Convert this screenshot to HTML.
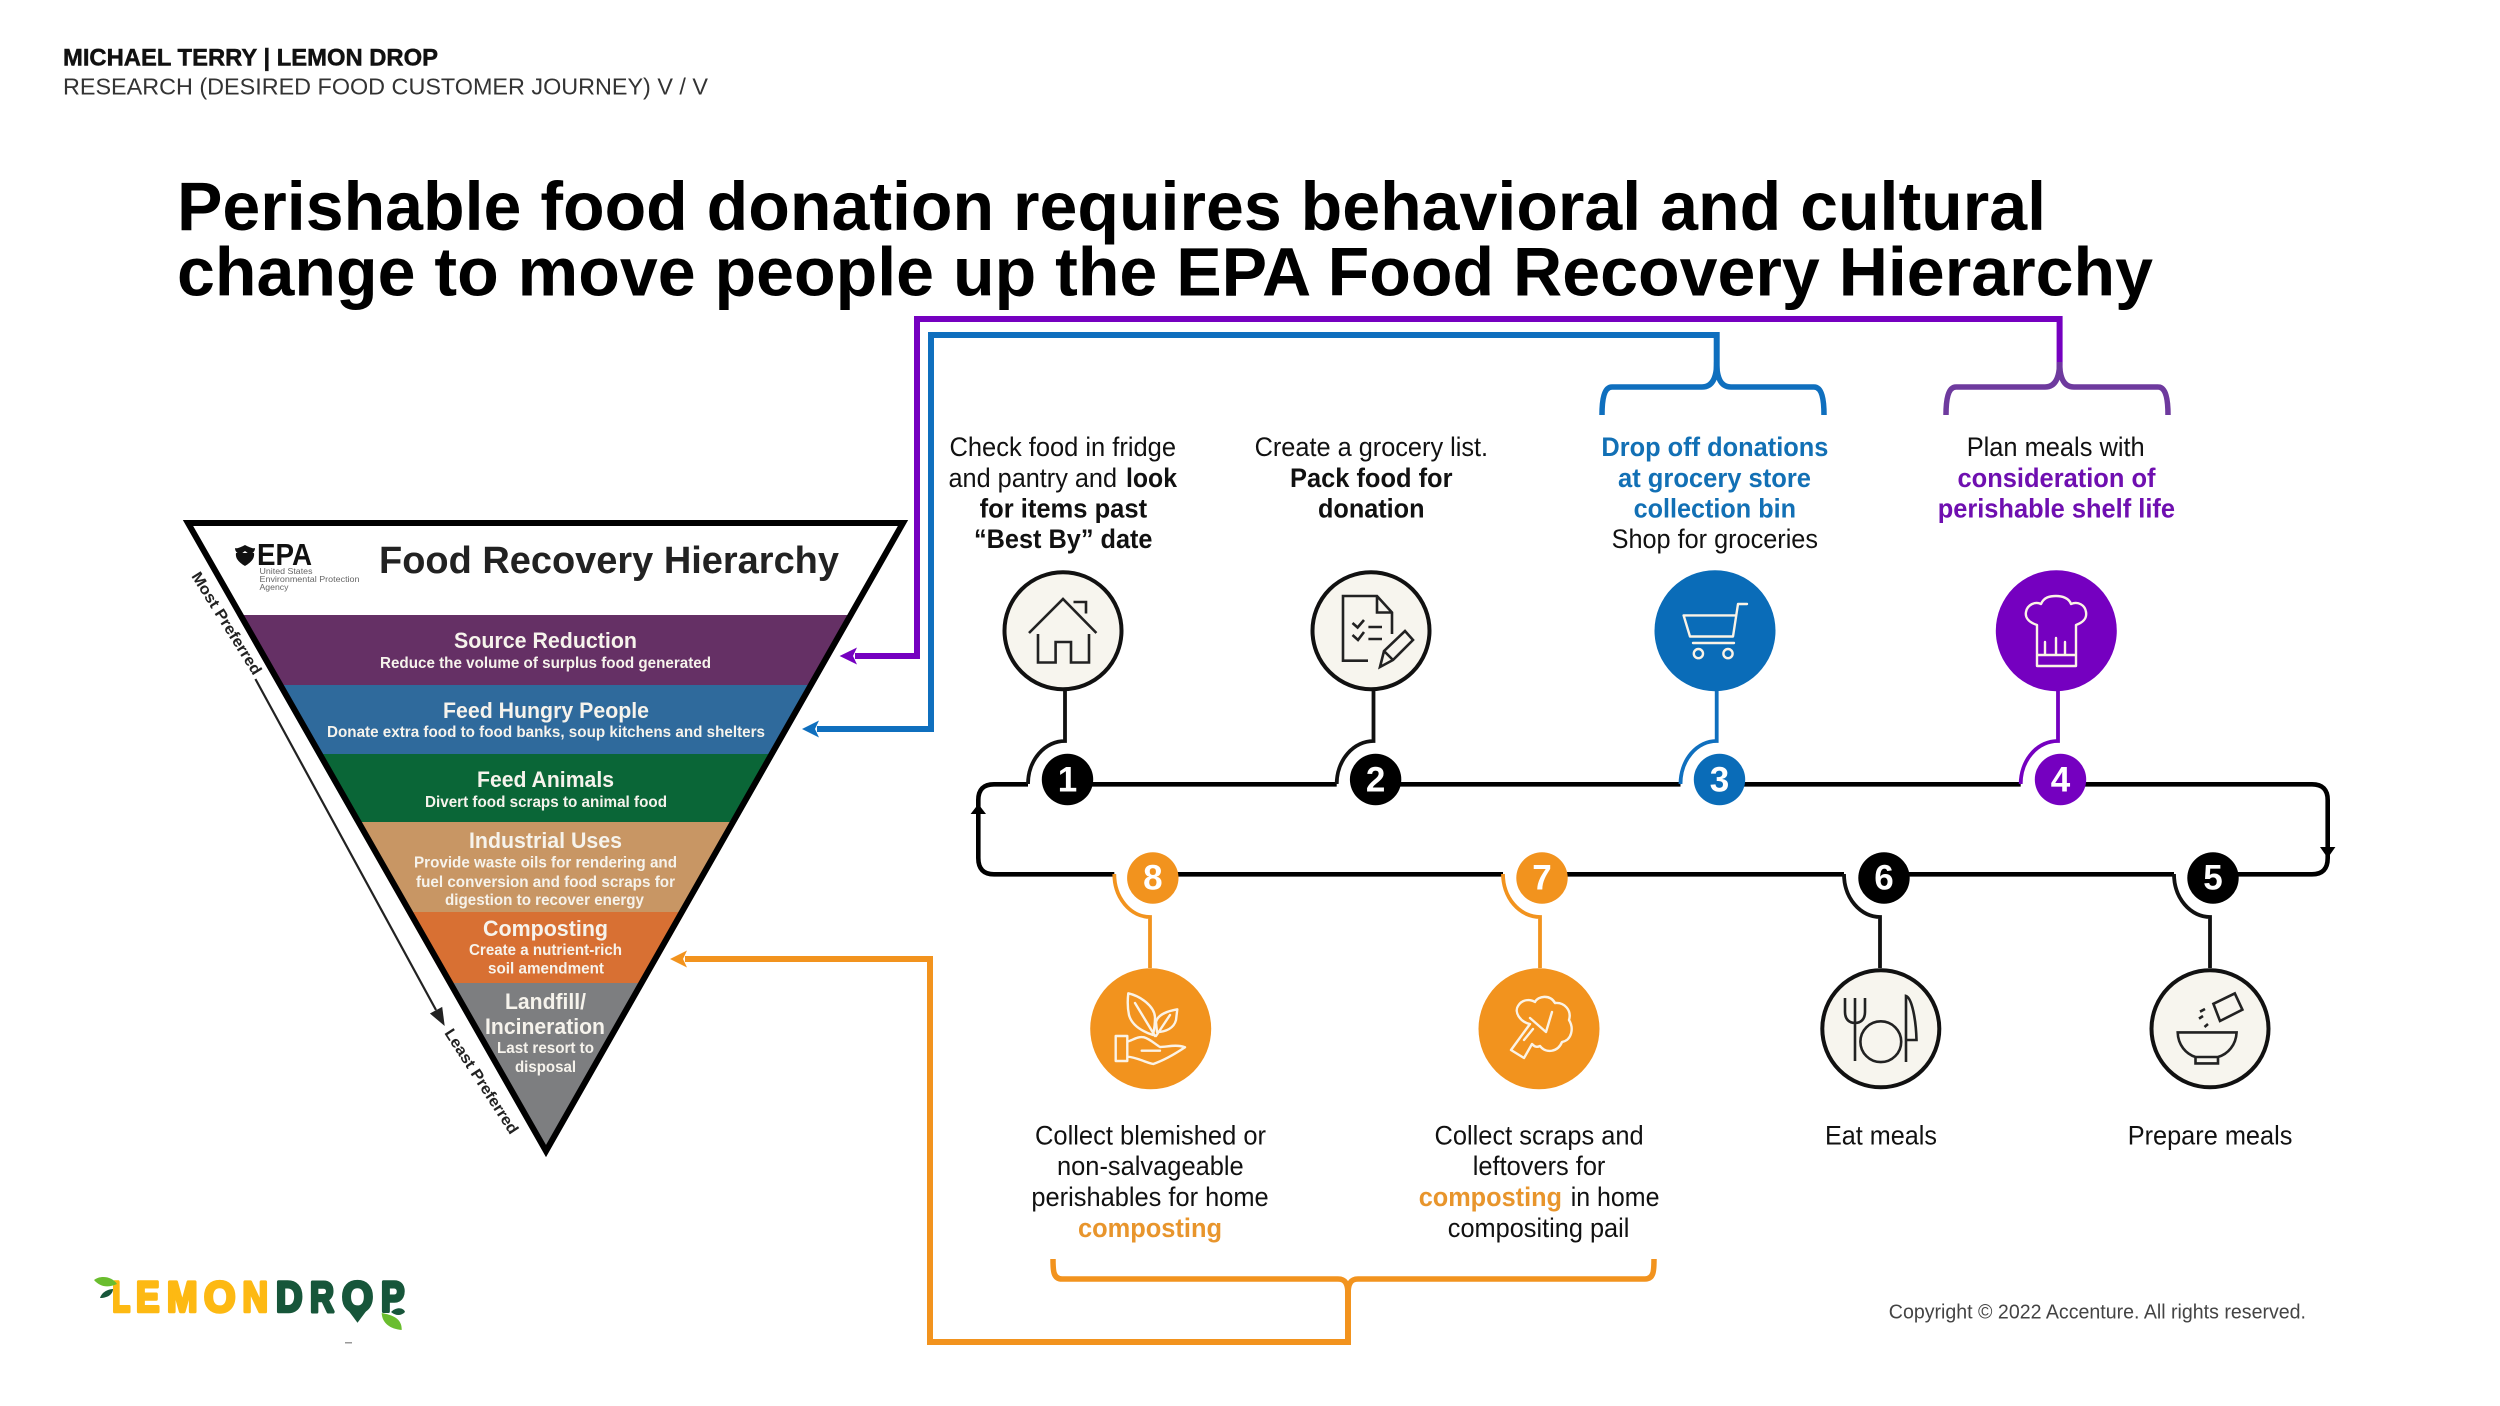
<!DOCTYPE html>
<html><head><meta charset="utf-8"><title>Food Recovery Hierarchy</title>
<style>
html,body{margin:0;padding:0;background:#fff}
svg{display:block}
text{font-family:"Liberation Sans",sans-serif}
.b{font-weight:bold}
.lab{font-size:27px;fill:#111}
.t{font-size:22.5px;font-weight:bold;fill:#F6F3EC}
.s{font-size:16px;font-weight:bold;fill:#F6F3EC}
.n{font-size:35px;font-weight:bold;fill:#fff;text-anchor:middle}
.ic{fill:none;stroke:#222;stroke-width:2.6}
.iw{fill:none;stroke:#FBF3E6;stroke-width:2.4;stroke-linejoin:round;stroke-linecap:round}
</style></head><body>
<svg width="2500" height="1406" viewBox="0 0 2500 1406" xmlns="http://www.w3.org/2000/svg">
<rect width="2500" height="1406" fill="#fff"/>
<defs><clipPath id="tri"><polygon points="183,520 908,520 546,1157"/></clipPath></defs>

<!-- header -->
<text class="b" x="63" y="65.7" font-size="24.5" fill="#111" stroke="#111" stroke-width="0.5" textLength="375" lengthAdjust="spacingAndGlyphs">MICHAEL TERRY | LEMON DROP</text>
<text x="63" y="94.3" font-size="23.5" fill="#333" textLength="645" lengthAdjust="spacingAndGlyphs">RESEARCH (DESIRED FOOD CUSTOMER JOURNEY)  V / V</text>
<text class="b" x="177" y="230" font-size="69" fill="#000" textLength="1869" lengthAdjust="spacingAndGlyphs">Perishable food donation requires behavioral and cultural</text>
<text class="b" x="177" y="295.7" font-size="69" fill="#000" textLength="1976" lengthAdjust="spacingAndGlyphs">change to move people up the EPA Food Recovery Hierarchy</text>

<!-- pyramid -->
<g clip-path="url(#tri)">
<rect x="180" y="615" width="730" height="70" fill="#653065"/>
<rect x="180" y="685" width="730" height="69" fill="#2F6A9C"/>
<rect x="180" y="754" width="730" height="68" fill="#0A6637"/>
<rect x="180" y="822" width="730" height="90" fill="#C89664"/>
<rect x="180" y="912" width="730" height="71" fill="#D87033"/>
<rect x="180" y="983" width="730" height="180" fill="#7D7E80"/>
</g>
<polygon points="188,523 903,523 546,1151" fill="none" stroke="#000" stroke-width="6" stroke-miterlimit="10"/>

<text class="b" x="379" y="573" font-size="38" fill="#222" textLength="460" lengthAdjust="spacingAndGlyphs">Food Recovery Hierarchy</text>
<path d="M245,545 C241,547 237,549 235,548 C235,552 238,554 241,554 L245,551 L249,554 C252,554 255,552 255,548 C253,549 249,547 245,545Z M245,553 L236,553 C235,559 240,563 245,566 C250,563 255,559 254,553Z" fill="#111"/>
<text class="b" x="257" y="565" font-size="31" fill="#111" textLength="55" lengthAdjust="spacingAndGlyphs">EPA</text>
<text x="259.5" y="574" font-size="8.5" fill="#666" textLength="53" lengthAdjust="spacingAndGlyphs">United States</text>
<text x="259.5" y="582" font-size="8.5" fill="#666" textLength="100" lengthAdjust="spacingAndGlyphs">Environmental Protection</text>
<text x="259.5" y="590" font-size="8.5" fill="#666" textLength="29" lengthAdjust="spacingAndGlyphs">Agency</text>

<text class="t" x="454" y="648" textLength="183" lengthAdjust="spacingAndGlyphs">Source Reduction</text>
<text class="s" x="380" y="668" textLength="331" lengthAdjust="spacingAndGlyphs">Reduce the volume of surplus food generated</text>
<text class="t" x="443" y="718" textLength="206" lengthAdjust="spacingAndGlyphs">Feed Hungry People</text>
<text class="s" x="327" y="737" textLength="438" lengthAdjust="spacingAndGlyphs">Donate extra food to food banks, soup kitchens and shelters</text>
<text class="t" x="477" y="787" textLength="137" lengthAdjust="spacingAndGlyphs">Feed Animals</text>
<text class="s" x="425" y="807" textLength="242" lengthAdjust="spacingAndGlyphs">Divert food scraps to animal food</text>
<text class="t" x="469" y="848" textLength="153" lengthAdjust="spacingAndGlyphs">Industrial Uses</text>
<text class="s" x="414" y="867.5" textLength="263" lengthAdjust="spacingAndGlyphs">Provide waste oils for rendering and</text>
<text class="s" x="416" y="887" textLength="259" lengthAdjust="spacingAndGlyphs">fuel conversion and food scraps for</text>
<text class="s" x="445" y="905" textLength="199" lengthAdjust="spacingAndGlyphs">digestion to recover energy</text>
<text class="t" x="483" y="936" textLength="125" lengthAdjust="spacingAndGlyphs">Composting</text>
<text class="s" x="469" y="955" textLength="153" lengthAdjust="spacingAndGlyphs">Create a nutrient-rich</text>
<text class="s" x="488" y="973.5" textLength="116" lengthAdjust="spacingAndGlyphs">soil amendment</text>
<text class="t" x="505" y="1009" textLength="81" lengthAdjust="spacingAndGlyphs">Landfill/</text>
<text class="t" x="485" y="1034" textLength="120" lengthAdjust="spacingAndGlyphs">Incineration</text>
<text class="s" x="497" y="1053" textLength="97" lengthAdjust="spacingAndGlyphs">Last resort to</text>
<text class="s" x="515" y="1072" textLength="61" lengthAdjust="spacingAndGlyphs">disposal</text>

<text class="b" transform="translate(191,576) rotate(58)" font-size="15.5" fill="#222" textLength="118" lengthAdjust="spacingAndGlyphs">Most Preferred</text>
<text class="b" transform="translate(444,1033) rotate(57)" font-size="15.5" fill="#222" textLength="122" lengthAdjust="spacingAndGlyphs">Least Preferred</text>
<line x1="255.4" y1="679" x2="436" y2="1010" stroke="#222" stroke-width="2.2"/>
<polygon points="444.7,1026 442.2,1006.9 429.9,1013.5" fill="#222"/>

<!-- coloured connectors -->
<path d="M2059.6,370 V319 H917 V656 H855" fill="none" stroke="#7500C0" stroke-width="6"/>
<polygon points="839.6,656 857,647.5 853,656 857,664.5" fill="#7500C0"/>
<path d="M1716.7,370 V335 H931 V729 H817" fill="none" stroke="#0F6FBE" stroke-width="6"/>
<polygon points="802,729 819,720.5 815,729 819,737.5" fill="#0F6FBE"/>
<path d="M1348,1290 V1342 H930 V959 H685" fill="none" stroke="#F2931E" stroke-width="6"/>
<polygon points="670,959 687,950.5 683,959 687,967.5" fill="#F2931E"/>

<!-- braces -->
<path d="M1602,415 C1602,400 1604,387 1612,387 H1702 C1711,387 1716.7,380 1716.7,362 C1716.7,380 1722,387 1731,387 H1814 C1822,387 1824,400 1824,415" fill="none" stroke="#0F6FBE" stroke-width="5.5"/>
<path d="M1946,415 C1946,400 1948,387 1956,387 H2045 C2054,387 2059.6,380 2059.6,362 C2059.6,380 2065,387 2074,387 H2158 C2166,387 2168,400 2168,415" fill="none" stroke="#6E3A9E" stroke-width="5.5"/>
<path d="M1053,1259 C1053,1270 1053,1279 1062,1279 H1338 C1345,1279 1348,1283 1348,1295 C1348,1283 1351,1279 1358,1279 H1645 C1654,1279 1654,1270 1654,1259" fill="none" stroke="#F2931E" stroke-width="5.5"/>

<!-- black loop -->
<g fill="none" stroke="#000" stroke-width="4.6">
<path d="M1028,784.3 H994 Q978.3,784.3 978.3,800 V858 Q978.3,874.3 994,874.3 H1114.3"/>
<path d="M1067,784.3 H1336.7 M1375,784.3 H1680.5 M1719,784.3 H2020.7"/>
<path d="M2060,784.3 H2312 Q2327.7,784.3 2327.7,800 V858 Q2327.7,874.3 2312,874.3 H2213"/>
<path d="M2174,874.3 H1884 M1844,874.3 H1542 M1503,874.3 H1153"/>
</g>
<polygon points="978.3,804 970.6,814 986,814" fill="#000"/>
<polygon points="2327.7,858 2320,847 2335.4,847" fill="#000"/>

<!-- stems -->
<g fill="none" stroke-width="3.8">
<path d="M1065,690 V741 A37 43 0 0 0 1028,784" stroke="#111"/>
<path d="M1373.5,690 V741 A37 43 0 0 0 1336.7,784" stroke="#111"/>
<path d="M1716.7,690 V741 A36 43 0 0 0 1680.5,784" stroke="#0F6FBE"/>
<path d="M2058,690 V741 A37 43 0 0 0 2020.7,784" stroke="#7500C0"/>
<path d="M1150,968 V917 A36 43 0 0 1 1114.3,874" stroke="#F2931E"/>
<path d="M1540,968 V917 A37 43 0 0 1 1503,874" stroke="#F2931E"/>
<path d="M1880,968 V917 A36 43 0 0 1 1844,874" stroke="#111"/>
<path d="M2210,968 V917 A36 43 0 0 1 2174,874" stroke="#111"/>
</g>

<!-- number circles -->
<circle cx="1067.5" cy="779.5" r="25.7" fill="#000"/><text class="n" x="1067.5" y="791.7">1</text>
<circle cx="1375.6" cy="779.5" r="25.7" fill="#000"/><text class="n" x="1375.6" y="791.7">2</text>
<circle cx="1719.5" cy="779.5" r="25.7" fill="#0A6CB8"/><text class="n" x="1719.5" y="791.7">3</text>
<circle cx="2060.5" cy="779.5" r="25.7" fill="#7500C0"/><text class="n" x="2060.5" y="791.7">4</text>
<circle cx="2213" cy="878" r="25.7" fill="#000"/><text class="n" x="2213" y="889.5">5</text>
<circle cx="1884" cy="878" r="25.7" fill="#000"/><text class="n" x="1884" y="889.5">6</text>
<circle cx="1542" cy="878" r="25.7" fill="#F2931E"/><text class="n" x="1542" y="889.5">7</text>
<circle cx="1152.8" cy="878" r="25.7" fill="#F2931E"/><text class="n" x="1152.8" y="889.5">8</text>

<!-- icon circles -->
<circle cx="1063" cy="630.7" r="58.5" fill="#F7F5EE" stroke="#111" stroke-width="4"/>
<circle cx="1371" cy="630.7" r="58.5" fill="#F7F5EE" stroke="#111" stroke-width="4"/>
<circle cx="1715" cy="630.7" r="60.5" fill="#0A6CB8"/>
<circle cx="2056.3" cy="630.7" r="60.5" fill="#7500C0"/>
<circle cx="1150.7" cy="1028.8" r="60.5" fill="#F2931E"/>
<circle cx="1539" cy="1028.8" r="60.5" fill="#F2931E"/>
<circle cx="1880.8" cy="1028.8" r="58.5" fill="#F7F5EE" stroke="#111" stroke-width="4"/>
<circle cx="2210" cy="1028.8" r="58.5" fill="#F7F5EE" stroke="#111" stroke-width="4"/>

<!-- house -->
<g class="ic"><path d="M1029,633 L1063,599 L1096.4,633 M1038,634 V662.5 H1055.6 V642 H1071 V662.5 H1089 V634 M1073.5,602 H1086 V613.5"/></g>
<!-- doc -->
<g class="ic"><path d="M1368,660.7 H1343 V596 H1377 L1392,612.5 V634 M1377,596 V612.5 H1392"/>
<path d="M1352.5,623 L1357.6,627.5 L1364,620 M1352.5,635 L1358,640 L1364,632 M1368.4,627 H1382 M1368.4,639 H1382"/>
<path d="M1380,667 L1384,651 L1405,631 L1413,640 L1393,660 Z M1384,651 L1393,660"/></g>
<!-- cart -->
<g class="iw"><path d="M1747,604 H1738 L1733,636.5 H1690 L1683.6,615.4 H1736"/><path d="M1693,643 H1734"/><circle cx="1698.4" cy="653.6" r="4.6"/><circle cx="1728" cy="653.6" r="4.6"/></g>
<!-- chef -->
<g class="iw"><path d="M2037,625 C2028,622 2025,617 2026,612 C2027,605 2035,601 2041,604 C2044,597 2050,596 2056,596 C2062,596 2069,598 2071,604 C2078,601 2085,605 2086,612 C2087,618 2084,622 2076,625 V666 H2037 Z M2037,655 H2076 M2045,655 V642 M2056,655 V638 M2065,655 V642"/></g>
<!-- leaf hand -->
<g class="iw" stroke-width="2"><path d="M1128.3,993.3 C1140,996 1155,1006 1155,1018 C1155,1026 1154,1030 1153,1035 C1144,1032 1132,1026 1129,1015 C1127.5,1008 1127.5,1000 1128.3,993.3 Z M1135,1003 L1155,1036"/>
<path d="M1177.3,1009.3 C1168,1011 1158,1014 1156,1022 L1157,1032 C1166,1032 1174,1028 1176,1020 Z M1170,1015 L1156,1036"/>
<path d="M1115.7,1036 H1127.3 V1061 H1115.7 Z M1127.3,1041.7 C1133,1040 1138,1036 1144,1037.3 C1150,1039 1155,1044 1160,1047 C1167,1047 1176,1044 1185,1047.3 C1175,1054 1165,1060 1153.3,1064 C1144,1062 1136,1057 1127.3,1056.7 M1141.7,1050.7 H1160"/></g>
<!-- broccoli -->
<g class="iw" stroke-width="2"><path d="M1511,1050 L1530,1024 C1520,1022 1514,1012 1518,1006 C1522,999 1530,999 1535,1002 C1538,996 1550,994 1555,1003 C1564,1002 1572,1010 1569,1020 C1574,1028 1572,1040 1562,1042 C1558,1052 1546,1054 1540,1046 C1536,1048 1534,1046 1532,1044 L1524,1058 Z M1530,1018 L1546,1032 M1552,1012 L1546,1032 M1524,1040 L1533,1029"/></g>
<!-- plate -->
<g class="ic" stroke-width="2.4"><circle cx="1880.8" cy="1041.7" r="20.4"/>
<path d="M1845,998 V1012 C1845,1020 1850,1023 1855,1023 C1860,1023 1865,1020 1865,1012 V998 M1855,998 V1061"/>
<path d="M1906,1062 V996 C1912,998 1916,1020 1916.5,1040 H1906"/></g>
<!-- bowl -->
<g class="ic"><path d="M2177.7,1032.4 H2236.6 C2236,1045 2228,1054 2218,1057 H2195.5 C2186,1054 2178,1045 2177.7,1032.4 Z M2195.5,1057 V1063.4 H2218 V1057"/>
<polygon points="2213.4,1003.8 2234.8,993.4 2242.4,1009.7 2220,1021"/>
<path d="M2200,1011.7 L2205,1009 M2199,1018.6 L2203,1016 M2204.5,1027 L2208,1024"/></g>

<!-- top labels -->
<text class="lab" x="949.5" y="456" textLength="226.5" lengthAdjust="spacingAndGlyphs">Check food in fridge</text>
<text class="lab" x="948.5" y="487" textLength="168.5" lengthAdjust="spacingAndGlyphs">and pantry and</text>
<text class="lab b" x="1126" y="487" textLength="51" lengthAdjust="spacingAndGlyphs">look</text>
<text class="lab b" x="979.6" y="517.5" textLength="167.5" lengthAdjust="spacingAndGlyphs">for items past</text>
<text class="lab b" x="974" y="548" textLength="178.5" lengthAdjust="spacingAndGlyphs">“Best By” date</text>

<text class="lab" x="1254.6" y="456" textLength="233.5" lengthAdjust="spacingAndGlyphs">Create a grocery list.</text>
<text class="lab b" x="1290" y="487" textLength="162.5" lengthAdjust="spacingAndGlyphs">Pack food for</text>
<text class="lab b" x="1318" y="517.5" textLength="106.5" lengthAdjust="spacingAndGlyphs">donation</text>

<text class="lab b" style="fill:#1270B5" x="1601.4" y="456" textLength="227" lengthAdjust="spacingAndGlyphs">Drop off donations</text>
<text class="lab b" style="fill:#1270B5" x="1618" y="487" textLength="193" lengthAdjust="spacingAndGlyphs">at grocery store</text>
<text class="lab b" style="fill:#1270B5" x="1633.6" y="517.5" textLength="162.4" lengthAdjust="spacingAndGlyphs">collection bin</text>
<text class="lab" x="1611.6" y="548" textLength="206.4" lengthAdjust="spacingAndGlyphs">Shop for groceries</text>

<text class="lab" x="1966.7" y="456" textLength="178" lengthAdjust="spacingAndGlyphs">Plan meals with</text>
<text class="lab b" style="fill:#6F0FB0" x="1957.5" y="487" textLength="198" lengthAdjust="spacingAndGlyphs">consideration of</text>
<text class="lab b" style="fill:#6F0FB0" x="1937.7" y="517.5" textLength="237.3" lengthAdjust="spacingAndGlyphs">perishable shelf life</text>

<!-- bottom labels -->
<text class="lab" x="1035" y="1144.5" textLength="231" lengthAdjust="spacingAndGlyphs">Collect blemished or</text>
<text class="lab" x="1057" y="1175" textLength="186.7" lengthAdjust="spacingAndGlyphs">non-salvageable</text>
<text class="lab" x="1031.4" y="1206" textLength="237.3" lengthAdjust="spacingAndGlyphs">perishables for home</text>
<text class="lab b" style="fill:#E8952C" x="1078" y="1237" textLength="144" lengthAdjust="spacingAndGlyphs">composting</text>

<text class="lab" x="1434.5" y="1144.5" textLength="209.2" lengthAdjust="spacingAndGlyphs">Collect scraps and</text>
<text class="lab" x="1472.8" y="1175" textLength="132.6" lengthAdjust="spacingAndGlyphs">leftovers for</text>
<text class="lab b" style="fill:#E8952C" x="1418.7" y="1206" textLength="143.3" lengthAdjust="spacingAndGlyphs">composting</text>
<text class="lab" x="1570.7" y="1206" textLength="88.8" lengthAdjust="spacingAndGlyphs">in home</text>
<text class="lab" x="1447.8" y="1237" textLength="181.6" lengthAdjust="spacingAndGlyphs">compositing pail</text>

<text class="lab" x="1825" y="1144.5" textLength="112" lengthAdjust="spacingAndGlyphs">Eat meals</text>
<text class="lab" x="2127.7" y="1144.5" textLength="164.7" lengthAdjust="spacingAndGlyphs">Prepare meals</text>

<text x="1888.8" y="1318.6" font-size="20.5" fill="#444" textLength="417.2" lengthAdjust="spacingAndGlyphs">Copyright © 2022 Accenture. All rights reserved.</text>

<!-- logo -->
<g font-size="43" font-weight="bold" stroke-width="3.5" stroke-linejoin="round">
<g fill="#FDB913" stroke="#FDB913">
<text x="112.3" y="1311.5" textLength="18" lengthAdjust="spacingAndGlyphs">L</text>
<text x="136" y="1311.5" textLength="23.5" lengthAdjust="spacingAndGlyphs">E</text>
<text x="167" y="1311.5" textLength="30.5" lengthAdjust="spacingAndGlyphs">M</text>
<text x="204" y="1311.5" textLength="31.5" lengthAdjust="spacingAndGlyphs">O</text>
<text x="242.5" y="1311.5" textLength="25.5" lengthAdjust="spacingAndGlyphs">N</text>
</g>
<g fill="#17563A" stroke="#17563A">
<text x="276" y="1311.5" textLength="26.5" lengthAdjust="spacingAndGlyphs">D</text>
<text x="310" y="1311.5" textLength="24" lengthAdjust="spacingAndGlyphs">R</text>
<text x="342" y="1311.5" textLength="31" lengthAdjust="spacingAndGlyphs">O</text>
<text x="381" y="1311.5" textLength="23.5" lengthAdjust="spacingAndGlyphs">P</text>
</g>
</g>
<polygon points="345,1306 370,1306 357.5,1322.7" fill="#17563A"/>
<path d="M94,1280 C100,1275 112,1276 117,1284 C108,1288 100,1287 94,1280Z" fill="#6ABD2E"/>
<path d="M100,1298 C102,1291 110,1289 113,1289 C113,1294 108,1298 100,1298Z" fill="#17563A"/>
<path d="M381.7,1313 C392,1315 402,1318 401.7,1330 C390,1329 382,1323 381.7,1313Z" fill="#6ABD2E"/>
<path d="M391,1312 C397,1306 404,1308 405,1312 C401,1316 396,1316 391,1312Z" fill="#17563A"/>
<rect x="345" y="1342" width="7" height="1.5" fill="#999"/>
</svg>
</body></html>
